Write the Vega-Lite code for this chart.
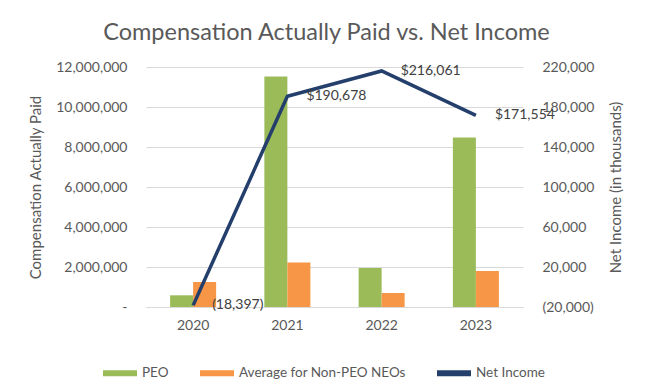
{
  "$schema": "https://vega.github.io/schema/vega-lite/v6.json",
  "width": 377,
  "height": 240,
  "autosize": {"type": "none"},
  "padding": {"left": 146, "top": 67, "right": 127, "bottom": 83},
  "background": "white",
  "config": {
    "view": {"stroke": null},
    "font": "Lato",
    "axis": {"labelFont": "Lato", "titleFont": "Lato", "labelColor": "#595959", "titleColor": "#595959", "labelFontSize": 14, "titleFontSize": 15, "titleFontWeight": "normal", "labelOverlap": false},
    "legend": {"labelFont": "Lato", "labelColor": "#595959", "labelFontSize": 13.5, "labelLimit": 0}
  },
  "title": {"text": "Compensation Actually Paid vs. Net Income", "font": "Lato", "fontSize": 23.5, "fontWeight": "normal", "color": "#595959", "offset": 16, "dx": -8},
  "datasets": {
    "comp": [
      {"year": "2020", "series": "PEO", "value": 585000},
      {"year": "2020", "series": "Average for Non-PEO NEOs", "value": 1250000},
      {"year": "2021", "series": "PEO", "value": 11520000},
      {"year": "2021", "series": "Average for Non-PEO NEOs", "value": 2220000},
      {"year": "2022", "series": "PEO", "value": 1950000},
      {"year": "2022", "series": "Average for Non-PEO NEOs", "value": 700000},
      {"year": "2023", "series": "PEO", "value": 8470000},
      {"year": "2023", "series": "Average for Non-PEO NEOs", "value": 1800000}
    ],
    "ni": [
      {"year": "2020", "net": -18397, "label": "(18,397)"},
      {"year": "2021", "net": 190678, "label": "$190,678"},
      {"year": "2022", "net": 216061, "label": "$216,061"},
      {"year": "2023", "net": 171554, "label": "$171,554"}
    ]
  },
  "layer": [
    {
      "data": {"name": "comp"},
      "mark": {"type": "bar"},
      "encoding": {
        "x": {"field": "year", "type": "ordinal", "scale": {"paddingInner": 0.512, "paddingOuter": 0.256},
          "axis": {"title": null, "labelAngle": 0, "ticks": false, "domainColor": "#d9d9d9", "labelPadding": 11}},
        "xOffset": {"field": "series", "type": "nominal", "sort": ["PEO", "Average for Non-PEO NEOs"]},
        "y": {"field": "value", "type": "quantitative", "scale": {"domain": [0, 12000000]},
          "axis": {"title": "Compensation Actually Paid", "values": [0, 2000000, 4000000, 6000000, 8000000, 10000000, 12000000], "tickCount": 7,
            "labelExpr": "datum.value == 0 ? '-' : format(datum.value, ',')", "labelOverlap": false, "domain": false, "ticks": false, "grid": true, "gridColor": "#d9d9d9", "labelPadding": 19, "titlePadding": 12}},
        "color": {"field": "series", "type": "nominal",
          "scale": {"domain": ["PEO", "Average for Non-PEO NEOs", "Net Income"], "range": ["#9BBB59", "#F79646", "#243F6B"]},
          "legend": {"title": null, "orient": "none", "direction": "horizontal", "legendX": -43, "legendY": 289,
            "symbolType": "M-1,-0.17H1V0.17H-1Z", "symbolSize": 1156, "symbolStrokeWidth": 0, "labelOffset": 5, "columnPadding": 31}}
      }
    },
    {
      "data": {"name": "ni"},
      "layer": [
        {
          "mark": {"type": "line", "strokeWidth": 3.5},
          "encoding": {
            "x": {"field": "year", "type": "ordinal"},
            "y": {"field": "net", "type": "quantitative", "scale": {"domain": [-20000, 220000]},
              "axis": {"orient": "right", "title": "Net Income (in thousands)", "titleAngle": 270, "values": [-20000, 20000, 60000, 100000, 140000, 180000, 220000], "tickCount": 7,
                "labelExpr": "datum.value < 0 ? '(' + format(-datum.value, ',') + ')' : format(datum.value, ',')",
                "labelOverlap": false, "domain": false, "ticks": false, "grid": false, "labelPadding": 19, "titlePadding": 30}},
            "color": {"datum": "Net Income"}
          }
        },
        {
          "mark": {"type": "text", "align": "left", "baseline": "middle", "dx": 19, "fontSize": 14, "color": "#404040", "font": "Lato"},
          "encoding": {
            "x": {"field": "year", "type": "ordinal"},
            "y": {"field": "net", "type": "quantitative"},
            "text": {"field": "label"}
          }
        }
      ]
    }
  ],
  "resolve": {"scale": {"y": "independent"}}
}
